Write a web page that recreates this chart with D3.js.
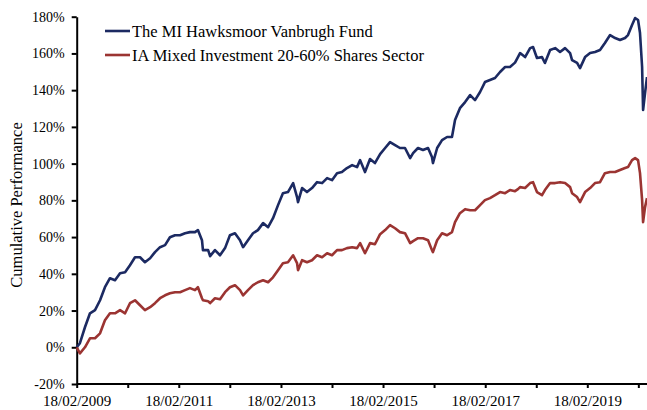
<script src="https://d3js.org/d3.v7.min.js"></script>

<style>
    body { margin: 0; background: #fff; }
    svg text { font-family: "Liberation Serif", "Times New Roman", serif; fill: #000; }
</style>

<svg id="chart" width=647 height=410></svg>

<script>
    // series (cumulative % since 18/02/2009)
    var dates = [
        "2009-02-18","2009-03-13","2009-04-18","2009-05-24","2009-06-29","2009-08-04","2009-09-08","2009-10-14","2009-11-19","2009-12-25",
        "2010-01-30","2010-03-06","2010-04-11","2010-05-17","2010-06-21","2010-07-28","2010-09-01","2010-10-07","2010-11-12","2010-12-17",
        "2011-01-22","2011-02-27","2011-04-04","2011-05-09","2011-06-14","2011-07-05","2011-08-03","2011-08-10","2011-09-16","2011-09-30",
        "2011-11-04","2011-12-10","2012-01-15","2012-02-19","2012-03-26","2012-05-01","2012-05-23","2012-06-27","2012-08-02","2012-09-06",
        "2012-10-13","2012-11-18","2012-12-23","2013-01-28","2013-03-04","2013-04-09","2013-05-16","2013-06-13","2013-06-20","2013-07-19",
        "2013-08-23","2013-09-28","2013-11-03","2013-12-09","2014-01-14","2014-02-18","2014-03-26","2014-04-30","2014-06-05","2014-07-12",
        "2014-08-16","2014-09-07","2014-10-12","2014-11-17","2014-12-22","2015-01-28","2015-03-05","2015-04-09","2015-05-15","2015-06-19",
        "2015-07-25","2015-08-31","2015-09-21","2015-10-26","2015-12-01","2016-01-06","2016-02-03","2016-02-10","2016-03-11","2016-04-15",
        "2016-05-21","2016-06-25","2016-07-17","2016-08-21","2016-09-27","2016-11-02","2016-12-07","2017-01-12","2017-02-16","2017-03-24",
        "2017-04-29","2017-06-04","2017-07-10","2017-08-14","2017-09-19","2017-10-10","2017-10-25","2017-11-30","2018-01-05","2018-01-26",
        "2018-02-23","2018-03-31","2018-04-21","2018-05-28","2018-07-03","2018-08-07","2018-09-12","2018-10-18","2018-11-01","2018-12-07",
        "2018-12-28","2019-02-02","2019-03-10","2019-04-14","2019-05-20","2019-06-24","2019-07-31","2019-09-05","2019-10-10","2019-11-15",
        "2019-12-06","2020-01-04","2020-01-26","2020-02-16","2020-03-01","2020-03-16","2020-03-23","2020-04-06","2020-04-20"
    ];
    var hawksmoor = [
        0, 2.2, 10.9, 18.5, 20.2, 25.6, 32.7, 37.6, 36.5, 40.3,
        40.9, 44.7, 49.0, 49.0, 46.3, 48.5, 51.8, 54.5, 55.6, 59.9,
        61.0, 61.0, 62.1, 62.7, 62.7, 63.8, 58.3, 52.9, 52.9, 49.6,
        52.9, 50.1, 54.0, 61.0, 62.1, 58.3, 54.5, 58.3, 62.1, 63.8,
        67.6, 65.4, 70.3, 77.4, 83.9, 84.5, 89.4, 81.8, 79.0, 86.7,
        84.5, 86.7, 89.9, 89.4, 92.1, 91.0, 94.8, 95.4, 97.6, 99.2,
        98.1, 101.9, 95.4, 102.5, 100.3, 105.2, 108.5, 111.7, 110.1, 108.5,
        108.5, 103.0, 105.7, 108.5, 107.4, 108.5, 103.6, 100.3, 108.5, 112.8,
        114.5, 114.5, 123.7, 130.2, 133.5, 137.3, 134.6, 139.0, 144.4, 145.5,
        146.6, 149.9, 152.6, 152.6, 155.0, 158.0, 160.2, 158.0, 162.9, 163.5,
        157.5, 158.0, 154.8, 161.9, 162.9, 160.8, 162.9, 160.2, 156.4, 154.8,
        152.0, 158.0, 160.2, 160.8, 161.9, 165.7, 170.0, 168.4, 167.3, 168.4,
        170.0, 175.5, 179.3, 178.2, 171.1, 152.6, 129.2, 138.4, 147.1
    ];
    var sector = [
        0, -3.3, 0, 4.9, 4.9, 7.6, 14.7, 18.5, 18.5, 20.2,
        18.5, 24.0, 25.6, 22.9, 20.2, 21.8, 24.0, 26.7, 28.3, 29.4,
        30.0, 30.0, 31.1, 32.2, 31.1, 32.7, 26.7, 25.6, 25.1, 24.0,
        26.7, 26.2, 30.0, 32.7, 33.8, 31.1, 28.3, 31.1, 33.8, 35.4,
        36.5, 35.4, 38.1, 42.0, 45.8, 46.3, 50.1, 45.8, 42.0, 47.4,
        46.3, 47.4, 50.1, 49.0, 51.2, 50.1, 52.9, 52.9, 54.0, 54.5,
        54.0, 56.7, 51.2, 56.7, 56.1, 61.6, 63.8, 66.5, 64.8, 62.7,
        62.1, 56.7, 57.8, 59.4, 59.4, 58.3, 52.9, 51.8, 58.3, 62.1,
        61.0, 62.7, 68.1, 73.0, 75.2, 74.6, 74.6, 77.4, 80.1, 81.2,
        82.8, 84.5, 83.9, 85.6, 85.0, 86.1, 87.2, 86.7, 89.4, 89.9,
        84.5, 82.8, 85.6, 89.4, 89.4, 89.9, 89.4, 87.2, 83.9, 81.8,
        79.0, 84.5, 86.7, 89.4, 89.9, 94.8, 95.4, 95.4, 96.5, 97.6,
        98.1, 101.9, 103.0, 101.9, 94.8, 80.1, 68.1, 76.3, 81.2
    ];
    var seriesNames = ["The MI Hawksmoor Vanbrugh Fund", "IA Mixed Investment 20-60% Shares Sector"];
    var seriesColors = ["#1c2a62", "#9b3432"];
    var yTicks = [-20, 0, 20, 40, 60, 80, 100, 120, 140, 160, 180];
    var tickYears = [2009, 2010, 2011, 2012, 2013, 2014, 2015, 2016, 2017, 2018, 2019, 2020];

    var parse = d3.timeParse("%Y-%m-%d");
    var svg = d3.select("#chart");
    var width = +svg.attr("width");

    // calibrate on two labelled ticks, then stretch to the last data date
    var start = parse("2009-02-18");
    var end = parse("2020-05-15");
    var x = d3.scaleTime()
        .domain([start, parse("2019-02-18")])
        .range([76.7, 587.3]);
    var xEnd = x(end);
    x.domain([start, end]).range([76.7, xEnd]);

    var y = d3.scaleLinear()
        .domain([-20, 180])
        .range([384, 16.7]);

    // axes
    var xAxis = d3.axisBottom(x)
        .tickValues(tickYears.map(yr => new Date(yr, 1, 18)))
        .tickFormat((d, i) => i % 2 === 0 ? d3.timeFormat("%d/%m/%Y")(d) : "")
        .tickSize(4)
        .tickPadding(7)
        .tickSizeOuter(0);
    var yAxis = d3.axisLeft(y)
        .tickValues(yTicks)
        .tickFormat(d => d + "%")
        .tickSize(5)
        .tickPadding(7)
        .tickSizeOuter(0);

    var gx = svg.append("g")
        .attr("transform", "translate(0,384)")
        .call(xAxis);
    gx.select(".domain").attr("d", "M76.7,0H" + width);
    gx.selectAll(".tick text").attr("font-size", 15);
    var gy = svg.append("g")
        .attr("transform", "translate(76.7,0)")
        .call(yAxis);
    gy.selectAll(".tick text").attr("font-size", 14);

    svg.selectAll(".domain").attr("stroke", "#000").attr("stroke-width", 2);
    svg.selectAll(".tick line").attr("stroke", "#000").attr("stroke-width", 2);

    // lines
    var line = d3.line()
        .x(d => x(d[0]))
        .y(d => y(d[1]));
    [hawksmoor, sector].forEach(function(vals, k) {
        svg.append("path")
            .datum(dates.map((d, i) => [parse(d), vals[i]]))
            .attr("fill", "none")
            .attr("stroke", seriesColors[k])
            .attr("stroke-width", 2.6)
            .attr("stroke-linejoin", "round")
            .attr("d", line);
    });

    // legend
    var legend = svg.append("g")
        .selectAll("g")
        .data(seriesNames)
        .join("g")
        .attr("transform", (d, i) => `translate(105,${31 + i * 24})`);
    legend.append("line")
        .attr("x1", 0).attr("x2", 25)
        .attr("stroke", (d, i) => seriesColors[i])
        .attr("stroke-width", 2.6);
    legend.append("text")
        .attr("x", 27)
        .attr("dy", "0.34em")
        .attr("font-size", 16.5)
        .text(d => d);

    // y axis title
    svg.append("text")
        .attr("transform", "translate(22,205) rotate(-90)")
        .attr("text-anchor", "middle")
        .attr("font-size", 16.5)
        .text("Cumulative Performance");
</script>
